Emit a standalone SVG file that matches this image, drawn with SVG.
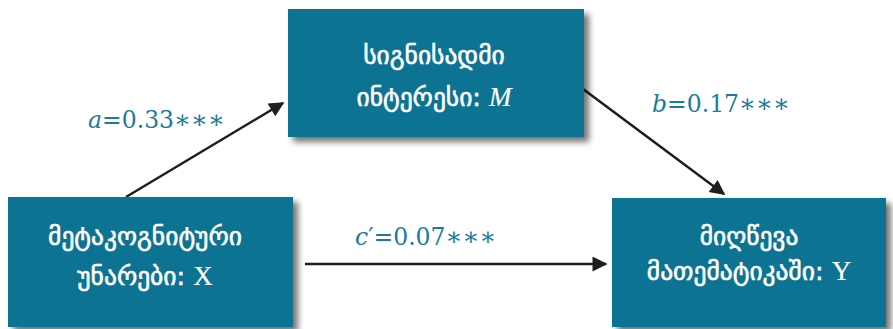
<svg xmlns="http://www.w3.org/2000/svg" width="893" height="329" viewBox="0 0 893 329">
  <style>
    .box { fill: #0f7393; filter: url(#shadow); }
    .ka { font-family: "DejaVu Sans", "Noto Sans", sans-serif; font-size: 25.5px; fill: #ffffff; stroke: #ffffff; stroke-width: 0.6; text-anchor: middle; }
    .lat { font-family: "Liberation Serif", serif; font-size: 27px; stroke-width: 0.2; }
    .coef { font-family: "DejaVu Serif", "Liberation Serif", serif; font-size: 23.5px; fill: #1a7b9c; }
    .ast { font-size: 25px; }
    .edge { stroke: #1e1e1e; stroke-width: 2.5; fill: none; marker-end: url(#arrow); }
  </style>
  <defs>
    <filter id="shadow" x="-10%" y="-10%" width="125%" height="130%">
      <feGaussianBlur in="SourceAlpha" stdDeviation="3"/>
      <feOffset dx="5" dy="5" result="off"/>
      <feComponentTransfer><feFuncA type="linear" slope="0.55"/></feComponentTransfer>
      <feMerge><feMergeNode/><feMergeNode in="SourceGraphic"/></feMerge>
    </filter>
    <marker id="arrow" viewBox="0 0 10 10" refX="9" refY="5" markerWidth="8" markerHeight="6" markerUnits="strokeWidth" orient="auto">
      <path d="M0,0 L10,5 L0,10 z" fill="#1e1e1e"/>
    </marker>
  </defs>

  <rect width="893" height="329" fill="#ffffff"/>

  <g id="connectors">
    <line class="edge" x1="126" y1="197" x2="283" y2="103"/>
    <line class="edge" x1="583" y1="89" x2="724" y2="194"/>
    <line class="edge" x1="305" y1="264" x2="606" y2="264"/>
  </g>

  <g id="node-m">
    <rect class="box" x="288" y="9" width="296" height="128"/>
    <text class="ka" x="434" y="64">სიგნისადმი</text>
    <text class="ka" x="434" y="106">ინტერესი: <tspan class="lat" font-style="italic">M</tspan></text>
  </g>

  <g id="node-x">
    <rect class="box" x="8" y="197" width="285" height="130"/>
    <text class="ka" x="145" y="245">მეტაკოგნიტური</text>
    <text class="ka" x="145" y="285">უნარები: <tspan class="lat">X</tspan></text>
  </g>

  <g id="node-y">
    <rect class="box" x="612" y="198" width="274" height="129"/>
    <text class="ka" x="749" y="245">მიღწევა</text>
    <text class="ka" x="749" y="280">მათემატიკაში: <tspan class="lat">Y</tspan></text>
  </g>

  <g id="labels">
    <text class="coef" x="88" y="128"><tspan font-style="italic">a</tspan>=0.33<tspan class="ast">∗∗∗</tspan></text>
    <text class="coef" x="652" y="112"><tspan font-style="italic">b</tspan>=0.17<tspan class="ast">∗∗∗</tspan></text>
    <text class="coef" x="355" y="245"><tspan font-style="italic">c</tspan>′=0.07<tspan class="ast">∗∗∗</tspan></text>
  </g>
</svg>
